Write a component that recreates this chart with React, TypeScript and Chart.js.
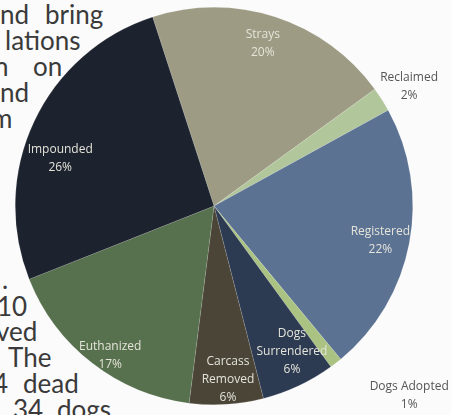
import React, { useEffect, useRef } from "react";
import { Chart, registerables } from "chart.js";

Chart.register(...registerables);

const categories = [
  "Strays",
  "Reclaimed",
  "Registered",
  "Dogs Adopted",
  "Dogs Surrendered",
  "Carcass Removed",
  "Euthanized",
  "Impounded",
];
const percents = [20, 2, 22, 1, 6, 6, 17, 26];

const sliceColors = [
  "#9d9b83",
  "#b2c69c",
  "#5b7293",
  "#aac282",
  "#2c3a52",
  "#4a4537",
  "#57704d",
  "#1c222e",
];

// label placement: angle offset (deg) from slice middle, radius factor, inside?, wrap words?
const labelPlacement = [
  { dA: -1.3, r: 0.855, inside: true, wrap: false },
  { dA: 1, r: 1.15, inside: false, wrap: false },
  { dA: 1, r: 0.855, inside: true, wrap: false },
  { dA: -8, r: 1.37, inside: false, wrap: false },
  { dA: -3, r: 0.83, inside: true, wrap: true },
  { dA: -1, r: 0.875, inside: true, wrap: true },
  { dA: -3, r: 0.915, inside: true, wrap: false },
  { dA: -8, r: 0.81, inside: true, wrap: false },
];

// background scanned page text fragments: [left, baseline, text]
const pageText: [number, number, string][] = [
  [0, 25, "nd"],
  [45, 25, "bring"],
  [5, 51, "lations"],
  [-6, 77, "n"],
  [33, 77, "on"],
  [0, 103, "nd"],
  [-9, 129, "m"],
  [2, 290, "."],
  [-3, 317, "10"],
  [-4, 342, "ved"],
  [8, 368, "The"],
  [-7, 394, "4"],
  [23, 394, "dead"],
  [13, 420, "34"],
  [57, 420, "dogs"],
];

const labelPlugin = {
  id: "sliceLabels",
  afterDatasetsDraw(chart: any) {
    const ctx = chart.ctx;
    const meta = chart.getDatasetMeta(0);
    ctx.save();
    ctx.font = "12px 'Open Sans'";
    ctx.textAlign = "center";
    ctx.textBaseline = "middle";
    meta.data.forEach((arc: any, i: number) => {
      const p = arc.getProps(["x", "y", "startAngle", "endAngle", "outerRadius"], true);
      const pl = labelPlacement[i];
      const mid = (p.startAngle + p.endAngle) / 2 + (pl.dA * Math.PI) / 180;
      const rr = p.outerRadius * pl.r;
      const cx = p.x + Math.cos(mid) * rr;
      const cy = p.y + Math.sin(mid) * rr;
      const name = categories[i];
      const lines = pl.wrap ? name.split(" ") : [name];
      lines.push(percents[i] + "%");
      const lh = 18;
      ctx.fillStyle = pl.inside ? "#e4e4da" : "#555555";
      lines.forEach((t, k) => {
        ctx.fillText(t, cx, cy + (k - (lines.length - 1) / 2) * lh);
      });
    });
    ctx.restore();
  },
};

export default function App() {
  const ref = useRef<HTMLCanvasElement>(null);
  useEffect(() => {
    if (!ref.current) return;
    const chart = new Chart(ref.current, {
      type: "pie",
      data: {
        labels: categories,
        datasets: [
          {
            data: percents,
            backgroundColor: sliceColors,
            borderColor: "rgba(255,255,255,0.25)",
            borderWidth: 0.5,
          },
        ],
      },
      options: {
        responsive: false,
        animation: false,
        rotation: -18,
        layout: { padding: { left: 15, right: 38, top: 7, bottom: 10 } },
        plugins: {
          legend: { display: false },
          tooltip: { enabled: false },
        },
      },
      plugins: [labelPlugin],
    });
    return () => chart.destroy();
  }, []);

  return (
    <div
      style={{
        position: "fixed",
        left: 0,
        top: 0,
        width: 451,
        height: 415,
        overflow: "hidden",
        background: "#fbfbfb",
      }}
    >
      {pageText.map(([x, base, t], i) => (
        <div
          key={i}
          style={{
            position: "absolute",
            left: x,
            top: base - 24,
            fontFamily: "Lato",
            fontSize: 26,
            lineHeight: "27px",
            color: "#3a3a3a",
            whiteSpace: "pre",
          }}
        >
          {t}
        </div>
      ))}
      <canvas
        ref={ref}
        width={451}
        height={415}
        style={{ position: "absolute", left: 0, top: 0, width: 451, height: 415 }}
      />
    </div>
  );
}
